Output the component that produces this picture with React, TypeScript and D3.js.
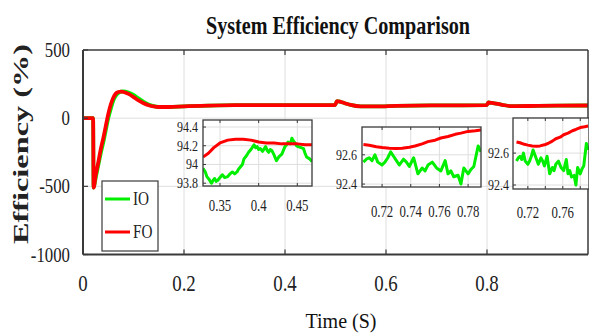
import React from "react";
import * as d3 from "d3";

// ---------- data ----------
const mainTime = [0, 0.02, 0.021, 0.025, 0.03, 0.035, 0.04, 0.045, 0.05, 0.055, 0.06, 0.065, 0.07, 0.075, 0.08, 0.09, 0.1, 0.11, 0.12, 0.13, 0.14, 0.15, 0.17, 0.2, 0.25, 0.3, 0.4, 0.499, 0.503, 0.51, 0.52, 0.53, 0.55, 0.58, 0.62, 0.7, 0.799, 0.803, 0.81, 0.83, 0.85, 0.9, 1.0];
const mainFO = [0, 0, -510, -420, -330, -230, -150, -60, 30, 100, 150, 180, 192, 195, 192, 178, 155, 130, 110, 95, 86, 82, 82, 87, 92, 95, 96, 96, 125, 120, 108, 97, 86, 86, 90, 94, 95, 115, 112, 98, 88, 90, 93];
const mainIO = [0, 0, -510, -440, -350, -260, -180, -90, 0, 70, 130, 165, 185, 195, 196, 188, 170, 145, 120, 100, 88, 82, 82, 87, 92, 95, 96, 96, 125, 120, 108, 97, 86, 86, 90, 94, 95, 115, 112, 98, 88, 90, 93];

const xTicks = [0, 0.2, 0.4, 0.6, 0.8];
const xTickLabels = ["0", "0.2", "0.4", "0.6", "0.8"];
const yTicks = [500, 0, -500, -1000];
const yTickLabels = ["500", "0", "-500", "-1000"];

// inset 1 (0.33 .. 0.47)
const in1RedT = [0.328, 0.335, 0.342, 0.35, 0.36, 0.37, 0.38, 0.39, 0.40, 0.41, 0.42, 0.43, 0.44, 0.45, 0.46, 0.469];
const in1RedV = [94.08, 94.12, 94.18, 94.23, 94.26, 94.27, 94.27, 94.26, 94.24, 94.23, 94.23, 94.22, 94.22, 94.22, 94.21, 94.21];
const in1GreenT = [0.328, 0.331, 0.333, 0.336, 0.339, 0.341, 0.343, 0.345, 0.347, 0.35, 0.353, 0.356, 0.36, 0.363, 0.366, 0.369, 0.372, 0.374, 0.376, 0.379, 0.381, 0.384, 0.387, 0.39, 0.394, 0.396, 0.398, 0.4, 0.402, 0.405, 0.409, 0.411, 0.413, 0.415, 0.417, 0.42, 0.423, 0.426, 0.43, 0.432, 0.434, 0.436, 0.438, 0.441, 0.443, 0.445, 0.447, 0.449, 0.451, 0.455, 0.458, 0.46, 0.462, 0.466, 0.469];
const in1GreenV = [93.96, 93.92, 93.87, 93.84, 93.8, 93.83, 93.85, 93.82, 93.83, 93.86, 93.89, 93.86, 93.87, 93.9, 93.92, 93.9, 93.92, 93.95, 93.97, 94.0, 94.06, 94.09, 94.13, 94.16, 94.21, 94.18, 94.19, 94.16, 94.17, 94.14, 94.19, 94.15, 94.13, 94.16, 94.15, 94.1, 94.04, 94.08, 94.11, 94.15, 94.19, 94.21, 94.24, 94.22, 94.28, 94.25, 94.23, 94.2, 94.19, 94.18, 94.17, 94.12, 94.08, 94.06, 94.03];

// insets 2 and 3 (0.71 .. 0.79)
const in2RedT = [0.707, 0.711, 0.716, 0.72, 0.725, 0.73, 0.734, 0.739, 0.743, 0.748, 0.752, 0.757, 0.761, 0.766, 0.771, 0.775, 0.78, 0.785, 0.789];
const in2RedV = [92.67, 92.665, 92.655, 92.65, 92.645, 92.643, 92.645, 92.652, 92.66, 92.675, 92.69, 92.7, 92.715, 92.725, 92.74, 92.748, 92.76, 92.765, 92.77];
const in2GreenT = [0.707, 0.709, 0.711, 0.713, 0.715, 0.717, 0.72, 0.722, 0.724, 0.726, 0.728, 0.73, 0.732, 0.735, 0.737, 0.739, 0.742, 0.745, 0.748, 0.75, 0.752, 0.755, 0.758, 0.761, 0.764, 0.766, 0.768, 0.77, 0.773, 0.775, 0.777, 0.78, 0.782, 0.784, 0.787, 0.789];
const in2GreenV = [92.55, 92.57, 92.58, 92.56, 92.6, 92.55, 92.53, 92.55, 92.58, 92.62, 92.59, 92.56, 92.53, 92.57, 92.55, 92.52, 92.58, 92.47, 92.51, 92.49, 92.53, 92.55, 92.51, 92.49, 92.56, 92.47, 92.49, 92.45, 92.46, 92.4, 92.51, 92.47, 92.5, 92.52, 92.66, 92.62];

const legendNames = ["IO", "FO"];

// ---------- styles ----------
const GREEN = "#00ee00";
const RED = "#ff0000";
const AXIS = "#3a3a3a";
const GRID = "#dedede";
const SERIF = "'Liberation Serif', 'Times New Roman', serif";

type TProps = { x: number; y: number; sx?: number; size: number; anchor?: string; bold?: boolean; children: React.ReactNode };
const T = ({ x, y, sx = 0.8, size, anchor = "middle", bold = false, children }: TProps) => (
  <text transform={`translate(${x},${y}) scale(${sx},1)`} textAnchor={anchor} fontFamily={SERIF} fontSize={size} fontWeight={bold ? "bold" : "normal"} fill="#222">
    {children}
  </text>
);

type InsetProps = {
  id: string; left: number; right: number; top: number; bottom: number;
  xd: [number, number]; yd: [number, number];
  xt: number[]; xtl: string[]; ytAll: number[]; yt: number[]; ytl: string[];
  yLabelX: number; xLabelY: number; xLabelsShown: number[];
};
const Inset = (p: InsetProps) => {
  const x = d3.scaleLinear().domain(p.xd).range([p.left, p.right]);
  const y = d3.scaleLinear().domain(p.yd).range([p.bottom, p.top]);
  const isFirst = p.id === "in1";
  const rT = isFirst ? in1RedT : in2RedT;
  const rV = isFirst ? in1RedV : in2RedV;
  const gT = isFirst ? in1GreenT : in2GreenT;
  const gV = isFirst ? in1GreenV : in2GreenV;
  const mk = (ts: number[]) => d3.line<number>().x((_, i) => x(ts[i])).y((v) => y(v)).curve(d3.curveLinear);
  return (
    <g>
      <defs>
        <clipPath id={`clip-${p.id}`}>
          <rect x={p.left} y={p.top} width={p.right - p.left} height={p.bottom - p.top} />
        </clipPath>
      </defs>
      <rect x={p.left} y={p.top} width={p.right - p.left} height={p.bottom - p.top} fill="#fff" />
      {p.xt.map((t) => (
        <line key={"gx" + t} x1={x(t)} x2={x(t)} y1={p.top} y2={p.bottom} stroke={GRID} strokeWidth={1} />
      ))}
      {p.ytAll.map((t) => (
        <line key={"gy" + t} x1={p.left} x2={p.right} y1={y(t)} y2={y(t)} stroke={GRID} strokeWidth={1} />
      ))}
      <g clipPath={`url(#clip-${p.id})`}>
        <path d={mk(gT)(gV) || ""} fill="none" stroke={GREEN} strokeWidth={3} strokeLinejoin="round" />
        <path d={mk(rT)(rV) || ""} fill="none" stroke={RED} strokeWidth={3} strokeLinejoin="round" />
      </g>
      {p.xt.map((t) => (
        <g key={"tx" + t}>
          <line x1={x(t)} x2={x(t)} y1={p.top} y2={p.top + 3} stroke={AXIS} />
          <line x1={x(t)} x2={x(t)} y1={p.bottom} y2={p.bottom - 3} stroke={AXIS} />
        </g>
      ))}
      {p.ytAll.map((t) => (
        <line key={"ty" + t} x1={p.left} x2={p.left + 3} y1={y(t)} y2={y(t)} stroke={AXIS} />
      ))}
      <rect x={p.left} y={p.top} width={p.right - p.left} height={p.bottom - p.top} fill="none" stroke={AXIS} strokeWidth={1.3} />
      {p.yt.map((t, i) => (
        <T key={"yl" + t} x={p.yLabelX} y={y(t) + 5} size={15} sx={0.8} anchor="end">{p.ytl[i]}</T>
      ))}
      {p.xLabelsShown.map((idx) => (
        <T key={"xl" + idx} x={x(p.xt[idx])} y={p.xLabelY} size={16} sx={0.8}>{p.xtl[idx]}</T>
      ))}
    </g>
  );
};

export default function App() {
  const W = 589, H = 336;
  const L = 83, R = 588, TOP = 50, BOT = 254.5;
  const x = d3.scaleLinear().domain([0, 1]).range([L, R]);
  const y = d3.scaleLinear().domain([-1000, 500]).range([BOT, TOP]);
  const line = d3.line<number>().x((_, i) => x(mainTime[i])).y((v) => y(v)).curve(d3.curveMonotoneX);

  return (
    <svg width={W} height={H} style={{ position: "absolute", left: 0, top: 0, background: "#fff" }}>
      <rect x={0} y={0} width={W} height={H} fill="#fff" />
      {xTicks.slice(1).map((t) => (
        <line key={"gx" + t} x1={x(t)} x2={x(t)} y1={TOP} y2={BOT} stroke={GRID} strokeWidth={1} />
      ))}
      {yTicks.slice(1, 3).map((t) => (
        <line key={"gy" + t} x1={L} x2={R} y1={y(t)} y2={y(t)} stroke={GRID} strokeWidth={1} />
      ))}
      <path d={line(mainIO) || ""} fill="none" stroke={GREEN} strokeWidth={3.8} strokeLinejoin="round" />
      <path d={line(mainFO) || ""} fill="none" stroke={RED} strokeWidth={3.8} strokeLinejoin="round" />

      {xTicks.map((t) => (
        <g key={"tx" + t}>
          <line x1={x(t)} x2={x(t)} y1={BOT} y2={BOT - 5} stroke={AXIS} strokeWidth={1.2} />
          <line x1={x(t)} x2={x(t)} y1={TOP} y2={TOP + 5} stroke={AXIS} strokeWidth={1.2} />
        </g>
      ))}
      {yTicks.map((t) => (
        <line key={"ty" + t} x1={L} x2={L + 5} y1={y(t)} y2={y(t)} stroke={AXIS} strokeWidth={1.2} />
      ))}
      <line x1={L} x2={R} y1={TOP} y2={TOP} stroke={AXIS} strokeWidth={1.5} />
      <line x1={L} x2={R} y1={BOT} y2={BOT} stroke={AXIS} strokeWidth={2} />
      <line x1={L} x2={L} y1={TOP} y2={BOT} stroke={AXIS} strokeWidth={2} />
      <line x1={R} x2={R} y1={TOP} y2={BOT} stroke={AXIS} strokeWidth={1.5} />

      <Inset id="in1" left={203} right={312} top={120} bottom={186} xd={[0.328, 0.469]} yd={[93.77, 94.475]}
        xt={[0.35, 0.4, 0.45]} xtl={["0.35", "0.4", "0.45"]} ytAll={[93.8, 94, 94.2, 94.4]} yt={[93.8, 94, 94.2, 94.4]} ytl={["93.8", "94", "94.2", "94.4"]}
        yLabelX={198} xLabelY={211} xLabelsShown={[0, 1, 2]} />
      <Inset id="in2" left={362} right={481} top={127} bottom={187} xd={[0.706, 0.789]} yd={[92.38, 92.79]}
        xt={[0.72, 0.74, 0.76, 0.78]} xtl={["0.72", "0.74", "0.76", "0.78"]} ytAll={[92.4, 92.6]} yt={[92.4, 92.6]} ytl={["92.4", "92.6"]}
        yLabelX={357} xLabelY={217} xLabelsShown={[0, 1, 2, 3]} />
      <Inset id="in3" left={513} right={589} top={118} bottom={189} xd={[0.703, 0.79]} yd={[92.375, 92.82]}
        xt={[0.72, 0.74, 0.76, 0.78]} xtl={["0.72", "0.74", "0.76", "0.78"]} ytAll={[92.4, 92.6]} yt={[92.4, 92.6]} ytl={["92.4", "92.6"]}
        yLabelX={509} xLabelY={218} xLabelsShown={[0, 2]} />

      <rect x={102} y={181} width={56} height={70} fill="#fff" stroke={AXIS} strokeWidth={1.2} />
      {legendNames.map((n, i) => (
        <g key={n}>
          <line x1={105} x2={130} y1={199 + i * 33} y2={199 + i * 33} stroke={i === 0 ? GREEN : RED} strokeWidth={3} />
          <T x={133} y={205 + i * 33} size={19} sx={0.8} anchor="start">{n}</T>
        </g>
      ))}

      {yTicks.map((t, i) => (
        <T key={"yl" + t} x={70} y={y(t) + 7} size={21} sx={0.8} anchor="end">{yTickLabels[i]}</T>
      ))}
      {xTicks.map((t, i) => (
        <T key={"xl" + t} x={x(t)} y={291} size={23} sx={0.82}>{xTickLabels[i]}</T>
      ))}

      <text x={338} y={34} textAnchor="middle" fontFamily={SERIF} fontSize={25} fontWeight="bold" fill="#111" textLength={264} lengthAdjust="spacingAndGlyphs">System Efficiency Comparison</text>
      <text x={341} y={328} textAnchor="middle" fontFamily={SERIF} fontSize={22} fill="#111" textLength={71} lengthAdjust="spacingAndGlyphs">Time (S)</text>
      <text transform="translate(28,144) rotate(-90)" textAnchor="middle" fontFamily={SERIF} fontSize={22} fontWeight="bold" fill="#222" textLength={200} lengthAdjust="spacingAndGlyphs">Efficiency (%)</text>
    </svg>
  );
}
